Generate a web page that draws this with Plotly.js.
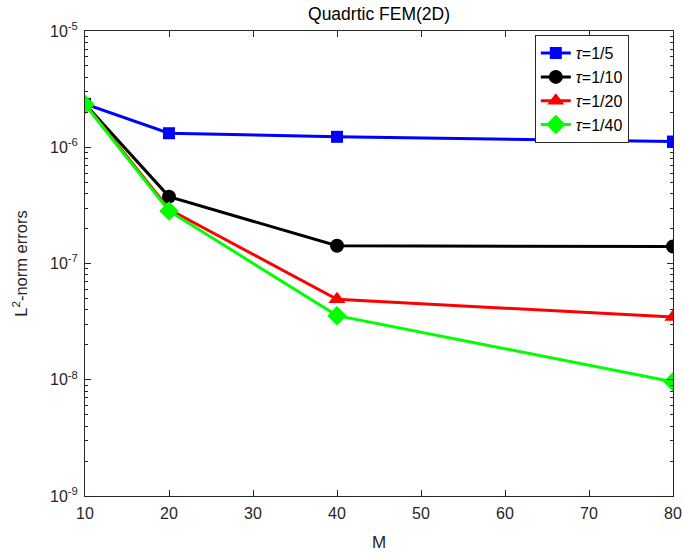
<!DOCTYPE html>
<html><head><meta charset="utf-8">
<script src="https://cdn.plot.ly/plotly-3.0.1.min.js"></script>
<style>html,body{margin:0;padding:0;background:#fff}#chart{width:683px;height:558px}</style>
</head><body><div id="chart"></div>
<script>
const M = [10, 20, 40, 80];
const tau5  = [2.36e-6, 1.32e-6, 1.23e-6, 1.12e-6];
const tau10 = [2.36e-6, 3.76e-7, 1.42e-7, 1.40e-7];
const tau20 = [2.36e-6, 2.93e-7, 4.92e-8, 3.47e-8];
const tau40 = [2.33e-6, 2.83e-7, 3.56e-8, 9.6e-9];
const seriesNames = ['<i>τ</i>=1/5', '<i>τ</i>=1/10', '<i>τ</i>=1/20', '<i>τ</i>=1/40'];
const xTicks = [10, 20, 30, 40, 50, 60, 70, 80];
const yTickVals = [1e-9, 1e-8, 1e-7, 1e-6, 1e-5];
const yTickText = ['10<sup>-9</sup>', '10<sup>-8</sup>', '10<sup>-7</sup>', '10<sup>-6</sup>', '10<sup>-5</sup>'];

const minorVals = [];
for (let e = -9; e < -5; e++) for (let k = 2; k <= 9; k++) minorVals.push(k * Math.pow(10, e));

const styles = [
  {color: '#0000ff', symbol: 'square', size: 12},
  {color: '#000000', symbol: 'circle', size: 14},
  {color: '#ff0000', symbol: 'triangle-up', size: 15},
  {color: '#00ff00', symbol: 'diamond', size: 15}
];
const data = [tau5, tau10, tau20, tau40].map((ys, i) => ({
  x: M, y: ys, name: seriesNames[i], type: 'scatter', mode: 'lines+markers',
  line: {color: styles[i].color, width: 3},
  marker: {color: styles[i].color, symbol: styles[i].symbol, size: styles[i].size}
}));

const axisCommon = {
  showline: true, linecolor: '#262626', linewidth: 1, mirror: 'ticks',
  ticks: 'inside', ticklen: 6, tickcolor: '#262626', showgrid: false, zeroline: false,
  ticklabelstandoff: 3,
  tickfont: {family: 'Liberation Sans, Arial, sans-serif', size: 16, color: '#262626'}
};
const layout = {
  width: 683, height: 558,
  margin: {l: 85, r: 10, t: 31, b: 62},
  paper_bgcolor: '#fff', plot_bgcolor: '#fff',
  font: {family: 'Liberation Sans, Arial, sans-serif', color: '#262626'},
  title: {text: 'Quadrtic FEM(2D)', x: (85 + 673) / 2 / 683, xanchor: 'center', y: 0.975, yanchor: 'middle',
          font: {size: 17.5, color: '#000'}},
  xaxis: Object.assign({}, axisCommon, {
    range: [10, 80], tickvals: xTicks,
    title: {text: 'M', font: {size: 17, color: '#262626'}, standoff: 14}
  }),
  yaxis: Object.assign({}, axisCommon, {
    type: 'log', range: [-9, -5], tickvals: yTickVals, ticktext: yTickText,
    minor: {ticks: 'inside', ticklen: 3, tickcolor: '#262626', tickvals: minorVals, showgrid: false},
    title: {text: 'L<sup>2</sup>-norm errors', font: {size: 16.5, color: '#262626'}, standoff: 18}
  }),
  showlegend: true,
  legend: {x: 0.765, y: 0.991, xanchor: 'left', yanchor: 'top', bgcolor: '#fff',
           bordercolor: '#262626', borderwidth: 1,
           font: {size: 16, color: '#000'}, tracegroupgap: 0, itemwidth: 30}
};
Plotly.newPlot('chart', data, layout, {displayModeBar: false, staticPlot: true});
</script></body></html>
